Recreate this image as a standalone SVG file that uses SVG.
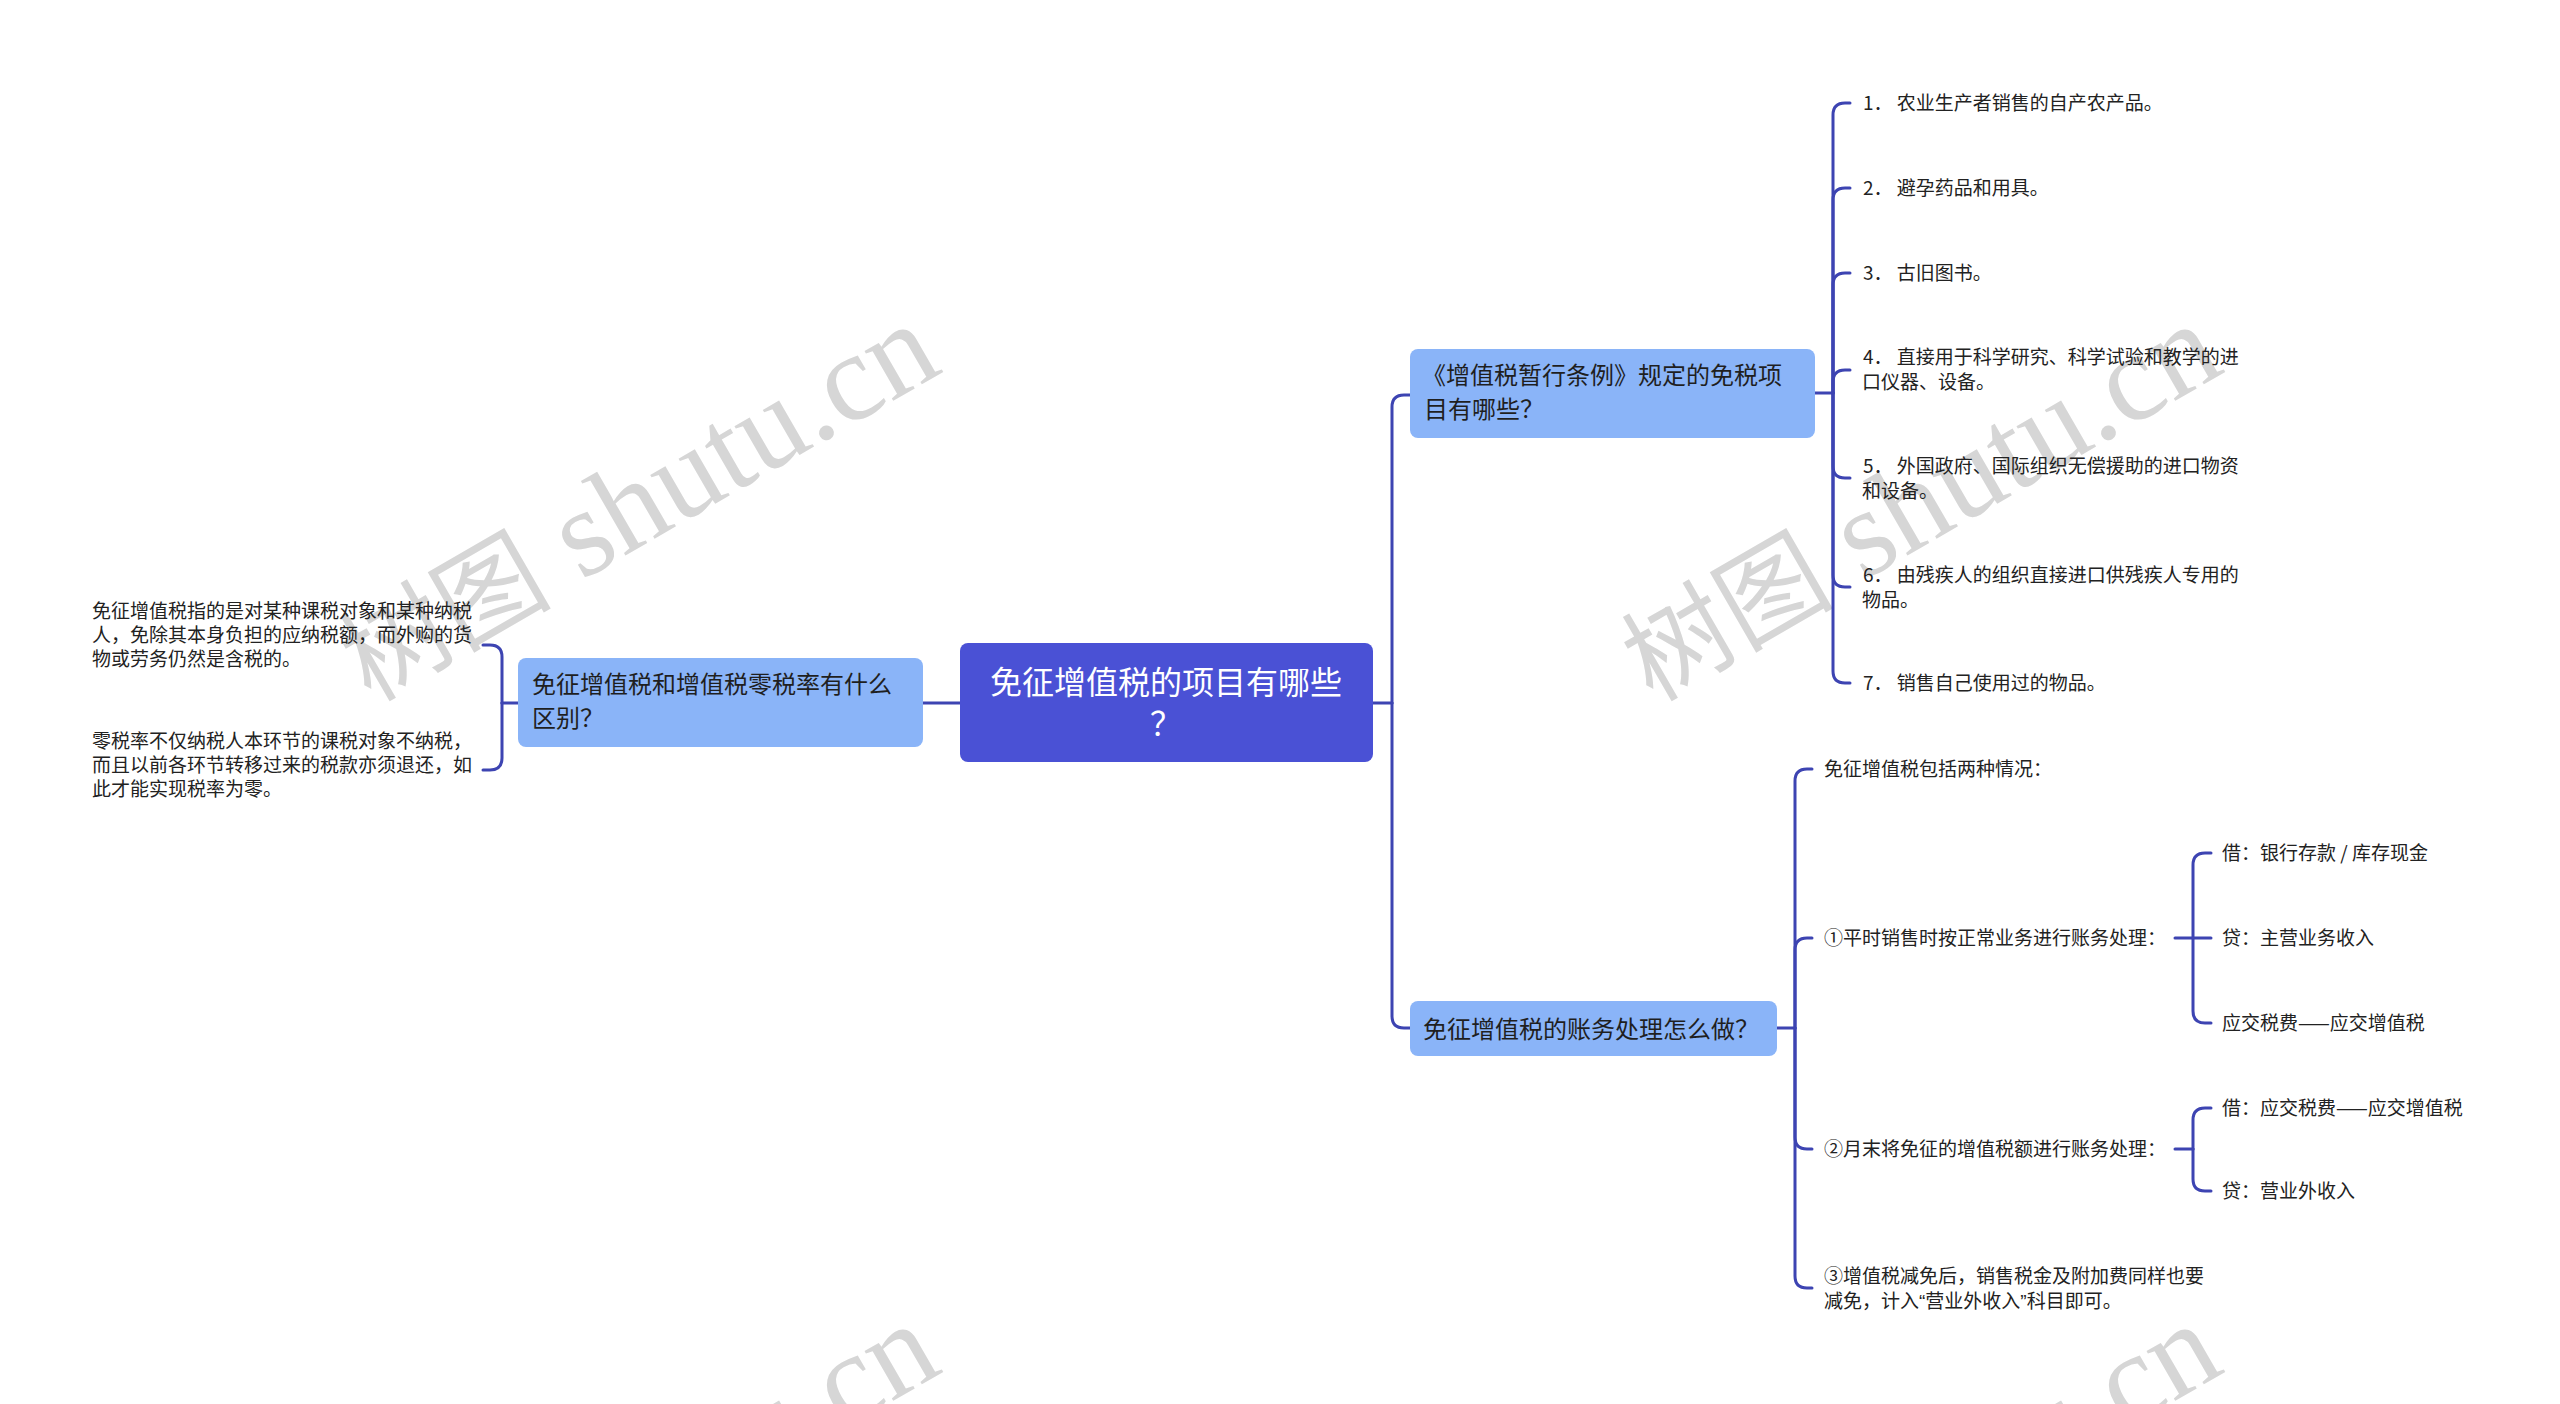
<svg xmlns="http://www.w3.org/2000/svg" width="2560" height="1404" viewBox="0 0 2560 1404">
<style>
text{font-family:"Noto Sans CJK SC","Noto Sans",sans-serif;}
.wm{font-family:"Liberation Serif","Noto Sans CJK SC",serif;font-size:125px;fill:#d6d6d6;}
.wm .cjk{font-family:"Noto Sans CJK SC",sans-serif;font-size:106px;}
.root rect{fill:#4a51d5;}
.root text{fill:#ffffff;font-size:32px;}
.sub rect{fill:#8ab4f8;}
.sub text{fill:#1f1f1f;font-size:24px;}
.leaf text{fill:#222222;font-size:19px;}
.q{font-family:"Liberation Sans",sans-serif;}
.conn path{fill:none;stroke:#3d44b2;stroke-width:3;stroke-linecap:round;}
</style>
<rect width="2560" height="1404" fill="#ffffff"/>
<g id="watermarks">
<text class="wm" text-anchor="end" transform="translate(945,371) rotate(-30)"><tspan class="cjk">树图</tspan> shutu.cn</text>
<text class="wm" text-anchor="end" transform="translate(2227,371) rotate(-30)"><tspan class="cjk">树图</tspan> shutu.cn</text>
<text class="wm" text-anchor="end" transform="translate(945,1371) rotate(-30)"><tspan class="cjk">树图</tspan> shutu.cn</text>
<text class="wm" text-anchor="end" transform="translate(2227,1371) rotate(-30)"><tspan class="cjk">树图</tspan> shutu.cn</text>
</g>
<g class="conn" id="connectors">
<path d="M960,703 H923"/>
<path d="M518,703 H502"/>
<path d="M502,703 V657 Q502,645 490,645 H483"/>
<path d="M502,703 V758 Q502,770 490,770 H483"/>
<path d="M1373,703 H1392"/>
<path d="M1392,703 V407 Q1392,395 1404,395 H1410"/>
<path d="M1392,703 V1016 Q1392,1028 1404,1028 H1410"/>
<path d="M1815,393 H1833"/>
<path d="M1833,393 V115 Q1833,103 1845,103 H1850"/>
<path d="M1833,393 V200 Q1833,188 1845,188 H1850"/>
<path d="M1833,393 V285 Q1833,273 1845,273 H1850"/>
<path d="M1833,393 V382 Q1833,370 1845,370 H1850"/>
<path d="M1833,393 V466 Q1833,478 1845,478 H1850"/>
<path d="M1833,393 V575 Q1833,587 1845,587 H1850"/>
<path d="M1833,393 V671 Q1833,683 1845,683 H1850"/>
<path d="M1777,1028 H1795"/>
<path d="M1795,1028 V781 Q1795,769 1807,769 H1812"/>
<path d="M1795,1028 V950 Q1795,938 1807,938 H1812"/>
<path d="M1795,1028 V1137 Q1795,1149 1807,1149 H1812"/>
<path d="M1795,1028 V1276 Q1795,1288 1807,1288 H1812"/>
<path d="M2175,938 H2211"/>
<path d="M2193,938 V865 Q2193,853 2205,853 H2211"/>
<path d="M2193,938 V1011 Q2193,1023 2205,1023 H2211"/>
<path d="M2175,1149 H2193"/>
<path d="M2193,1149 V1120 Q2193,1108 2205,1108 H2211"/>
<path d="M2193,1149 V1179 Q2193,1191 2205,1191 H2211"/>
</g>
<g id="root" class="root">
<rect x="960" y="643" width="413" height="119" rx="8"/>
<text x="1166" y="694" text-anchor="middle">免征增值税的项目有哪些</text>
<text x="1166" y="735" text-anchor="middle">？</text>
</g>
<g id="n-left" class="sub">
<rect x="518" y="658" width="405" height="89" rx="8"/>
<text x="532" y="693">免征增值税和增值税零税率有什么</text>
<text x="532" y="727">区别？</text>
</g>
<g id="n-left-1" class="leaf">
<text x="92" y="618">免征增值税指的是对某种课税对象和某种纳税</text>
<text x="92" y="642">人，免除其本身负担的应纳税额，而外购的货</text>
<text x="92" y="666">物或劳务仍然是含税的。</text>
</g>
<g id="n-left-2" class="leaf">
<text x="92" y="748">零税率不仅纳税人本环节的课税对象不纳税，</text>
<text x="92" y="772">而且以前各环节转移过来的税款亦须退还，如</text>
<text x="92" y="796">此才能实现税率为零。</text>
</g>
<g id="n-top" class="sub">
<rect x="1410" y="349" width="405" height="89" rx="8"/>
<text x="1422" y="384">《增值税暂行条例》规定的免税项</text>
<text x="1424" y="418">目有哪些？</text>
</g>
<g id="t1" class="leaf"><text x="1863" y="110">1． 农业生产者销售的自产农产品。</text></g>
<g id="t2" class="leaf"><text x="1863" y="195">2． 避孕药品和用具。</text></g>
<g id="t3" class="leaf"><text x="1863" y="280">3． 古旧图书。</text></g>
<g id="t4" class="leaf"><text x="1863" y="364">4． 直接用于科学研究、科学试验和教学的进</text><text x="1862" y="389">口仪器、设备。</text></g>
<g id="t5" class="leaf"><text x="1863" y="473">5． 外国政府、国际组织无偿援助的进口物资</text><text x="1862" y="498">和设备。</text></g>
<g id="t6" class="leaf"><text x="1863" y="582">6． 由残疾人的组织直接进口供残疾人专用的</text><text x="1862" y="607">物品。</text></g>
<g id="t7" class="leaf"><text x="1863" y="690">7． 销售自己使用过的物品。</text></g>
<g id="n-bottom" class="sub">
<rect x="1410" y="1001" width="367" height="55" rx="8"/>
<text x="1423" y="1038">免征增值税的账务处理怎么做？</text>
</g>
<g id="b1" class="leaf"><text x="1824" y="776">免征增值税包括两种情况：</text></g>
<g id="b2" class="leaf"><text x="1824" y="945">①平时销售时按正常业务进行账务处理：</text></g>
<g id="b2a" class="leaf"><text x="2222" y="860">借：银行存款 / 库存现金</text></g>
<g id="b2b" class="leaf"><text x="2222" y="945">贷：主营业务收入</text></g>
<g id="b2c" class="leaf"><text x="2222" y="1030">应交税费——应交增值税</text></g>
<g id="b3" class="leaf"><text x="1824" y="1156">②月末将免征的增值税额进行账务处理：</text></g>
<g id="b3a" class="leaf"><text x="2222" y="1115">借：应交税费——应交增值税</text></g>
<g id="b3b" class="leaf"><text x="2222" y="1198">贷：营业外收入</text></g>
<g id="b4" class="leaf"><text x="1824" y="1283">③增值税减免后，销售税金及附加费同样也要</text><text x="1824" y="1308">减免，计入<tspan class="q">“</tspan>营业外收入<tspan class="q">”</tspan>科目即可。</text></g>
</svg>
